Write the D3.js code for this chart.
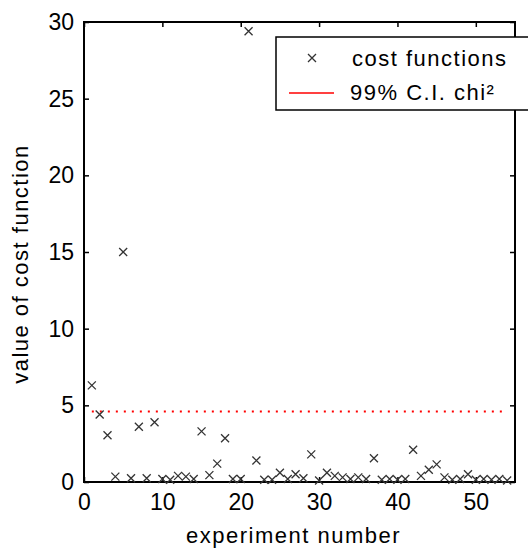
<!DOCTYPE html>
<html>
<head>
<meta charset="utf-8">
<script src="https://cdn.jsdelivr.net/npm/d3@7"></script>
<style>
  body { margin: 0; background: #fff; }
  svg { display: block; font-family: "Liberation Sans", Arial, sans-serif; }
</style>
</head>
<body>
<svg></svg>
<script>
var screen = {width: 528, height: 551}
var margins = {top: 22, right: 13, bottom: 69, left: 84}

// cost function value per experiment
var costValues = [6.3, 4.4, 3.05, 0.35, 15.0, 0.25, 3.6, 0.25, 3.9, 0.2,
                  0.15, 0.4, 0.35, 0.2, 3.3, 0.45, 1.2, 2.85, 0.2, 0.2,
                  29.4, 1.4, 0.15, 0.15, 0.6, 0.2, 0.5, 0.25, 1.8, 0.1,
                  0.6, 0.4, 0.3, 0.2, 0.3, 0.2, 1.55, 0.15, 0.2, 0.15,
                  0.2, 2.1, 0.4, 0.8, 1.15, 0.3, 0.15, 0.2, 0.5, 0.15,
                  0.2, 0.15, 0.2, 0.1]
var experiments = costValues.map(function(v, i) { return i + 1 })
var ciLevel = 4.6
var xTicks = [0, 10, 20, 30, 40, 50]
var yTicks = [0, 5, 10, 15, 20, 25, 30]
var legendLabels = ["cost functions", "99% C.I. chi\u00b2"]

var width = screen.width - margins.left - margins.right
var height = screen.height - margins.top - margins.bottom

var svg = d3.select("svg")
  .attr("width", screen.width)
  .attr("height", screen.height)

var graph = svg.append("g")
  .attr("transform", "translate(" + margins.left + "," + margins.top + ")")

var xScale = d3.scaleLinear().domain([0, 55]).range([0, width])
var yScale = d3.scaleLinear().domain([0, 30]).range([height, 0])

// axes, matlab style: ticks pointing inwards on all four sides
var styleAxis = function(g, showText)
{
  g.select(".domain").remove()
  g.selectAll(".tick line").attr("stroke", "#000").attr("stroke-width", 1.5)
  g.selectAll(".tick text")
    .attr("fill", "#000")
    .style("font-size", "23px")
  if (!showText) g.selectAll(".tick text").remove()
}

graph.append("g")
  .attr("transform", "translate(0," + height + ")")
  .call(d3.axisBottom(xScale).tickValues(xTicks).tickSize(-5).tickPadding(12))
  .call(styleAxis, true)

graph.append("g")
  .call(d3.axisTop(xScale).tickValues(xTicks).tickSize(-5))
  .call(styleAxis, false)

graph.append("g")
  .call(d3.axisLeft(yScale).tickValues(yTicks).tickSize(-5).tickPadding(10))
  .call(styleAxis, true)

graph.append("g")
  .attr("transform", "translate(" + width + ",0)")
  .call(d3.axisRight(yScale).tickValues(yTicks).tickSize(-5))
  .call(styleAxis, false)

graph.append("rect")
  .attr("width", width)
  .attr("height", height)
  .attr("fill", "none")
  .attr("stroke", "#000")
  .attr("stroke-width", 2)

// 99% confidence line
graph.append("line")
  .attr("x1", xScale(experiments[0]))
  .attr("x2", xScale(experiments[experiments.length - 1]))
  .attr("y1", yScale(ciLevel))
  .attr("y2", yScale(ciLevel))
  .attr("stroke", "#ff0000")
  .attr("stroke-width", 2)
  .attr("stroke-dasharray", "2,6")

// x markers
var cross = "M-4,-4L4,4M-4,4L4,-4"
graph.selectAll(".pt")
  .data(costValues)
  .enter()
  .append("path")
  .attr("class", "pt")
  .attr("d", cross)
  .attr("transform", function(d, i) {
    return "translate(" + xScale(experiments[i]) + "," + yScale(d) + ")"
  })
  .attr("fill", "none")
  .attr("stroke", "#333")
  .attr("stroke-width", 1.3)

// axis labels
svg.append("text")
  .attr("x", margins.left + width / 2 - 6)
  .attr("y", 543)
  .attr("text-anchor", "middle")
  .style("font-size", "22px")
  .style("letter-spacing", "1.5px")
  .text("experiment number")

svg.append("text")
  .attr("transform", "translate(28," + (margins.top + height / 2 + 12) + ") rotate(-90)")
  .attr("text-anchor", "middle")
  .style("font-size", "22px")
  .style("letter-spacing", "1.5px")
  .text("value of cost function")

// legend
var legend = svg.append("g").attr("transform", "translate(276,37)")
legend.append("rect")
  .attr("width", 260)
  .attr("height", 73)
  .attr("fill", "#fff")
  .attr("stroke", "#000")
  .attr("stroke-width", 1.5)

legend.append("path")
  .attr("d", cross)
  .attr("transform", "translate(36,21)")
  .attr("fill", "none")
  .attr("stroke", "#333")
  .attr("stroke-width", 1.3)

legend.append("line")
  .attr("x1", 13).attr("x2", 58)
  .attr("y1", 56).attr("y2", 56)
  .attr("stroke", "#ff0000")
  .attr("stroke-width", 1.5)

legend.selectAll(".lbl")
  .data(legendLabels)
  .enter()
  .append("text")
  .attr("class", "lbl")
  .attr("x", function(d, i) { return i == 0 ? 76 : 74 })
  .attr("y", function(d, i) { return 29 + i * 34 })
  .style("font-size", "22px")
  .style("letter-spacing", "1.5px")
  .text(function(d) { return d })
</script>
</body>
</html>
